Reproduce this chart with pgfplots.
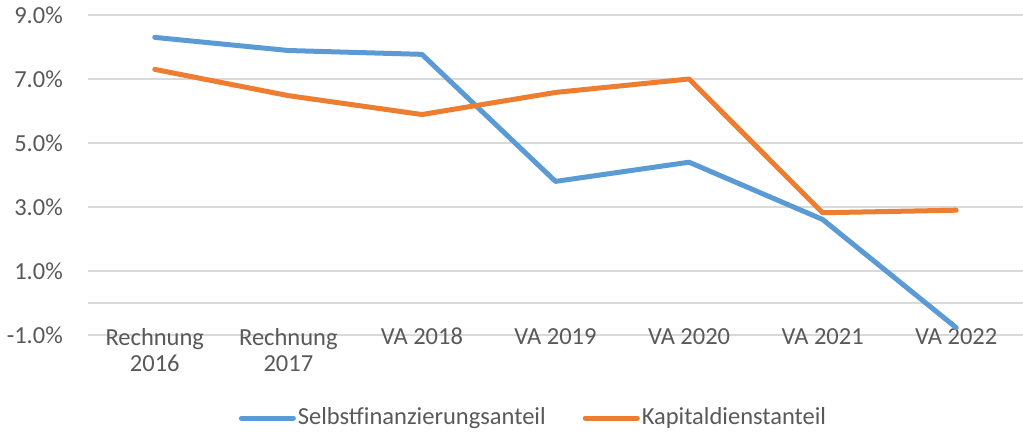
\documentclass[border=0pt]{standalone}
\usepackage{fontspec}
\setmainfont{Carlito}
\usepackage{pgfplots}
\pgfplotsset{compat=1.18}
\definecolor{sblue}{HTML}{5B9BD5}
\definecolor{sorange}{HTML}{ED7D31}
\definecolor{gridgray}{HTML}{D9D9D9}
\definecolor{txt}{HTML}{595959}
\begin{document}
\fontsize{24.5pt}{26pt}\selectfont
\begin{tikzpicture}
\begin{axis}[
  at={(0pt,0pt)}, anchor=south west,
  scale only axis, width=935pt, height=320pt,
  xmin=-0.5, xmax=6.5, ymin=-1, ymax=9,
  axis line style={draw=none},
  major tick length=0pt,
  xtick={0,1,2,3,4,5,6},
  xticklabels={{Rechnung\\2016},{Rechnung\\2017},{VA 2018},{VA 2019},{VA 2020},{VA 2021},{VA 2022}},
  xticklabel style={align=center, text=txt, font=\fontsize{24.5pt}{26pt}\selectfont, inner sep=0pt, anchor=north, yshift=7pt},
  ytick={-1,1,3,5,7,9},
  yticklabels={-1.0\%,1.0\%,3.0\%,5.0\%,7.0\%,9.0\%},
  yticklabel style={text=txt, font=\fontsize{24.5pt}{26pt}\selectfont, inner sep=0pt, anchor=east, xshift=-25pt},
  extra y ticks={0}, extra y tick labels={},
  extra y tick style={ymajorgrids=true},
  ymajorgrids=true, xmajorgrids=false,
  grid style={gridgray, line width=1.5pt},
  legend columns=2,
  legend style={at={(axis description cs:0.5,0)}, anchor=center, yshift=-83pt, xshift=-22pt, draw=none, fill=none,
    font=\fontsize{24.5pt}{26pt}\selectfont, text=txt, column sep=0pt, inner sep=0pt,
    /tikz/every even column/.append style={column sep=35pt}},
  legend cell align=left,
  legend image code/.code={\draw[#1, line width=5pt, line cap=round] (0pt,0pt) -- (52pt,0pt);},
]
\addplot[sblue, line width=5pt, line join=round, line cap=round] coordinates {
  (0,8.30) (1,7.89) (2,7.77) (3,3.80) (4,4.40) (5,2.61) (6,-0.77)};
\addlegendentry{Selbstfinanzierungsanteil}
\addplot[sorange, line width=5pt, line join=round, line cap=round] coordinates {
  (0,7.30) (1,6.48) (2,5.89) (3,6.58) (4,7.00) (5,2.82) (6,2.90)};
\addlegendentry{Kapitaldienstanteil}
\end{axis}
\pgfresetboundingbox
\path[use as bounding box] (-88pt,-97pt) rectangle (935pt,335pt);
\end{tikzpicture}
\end{document}
